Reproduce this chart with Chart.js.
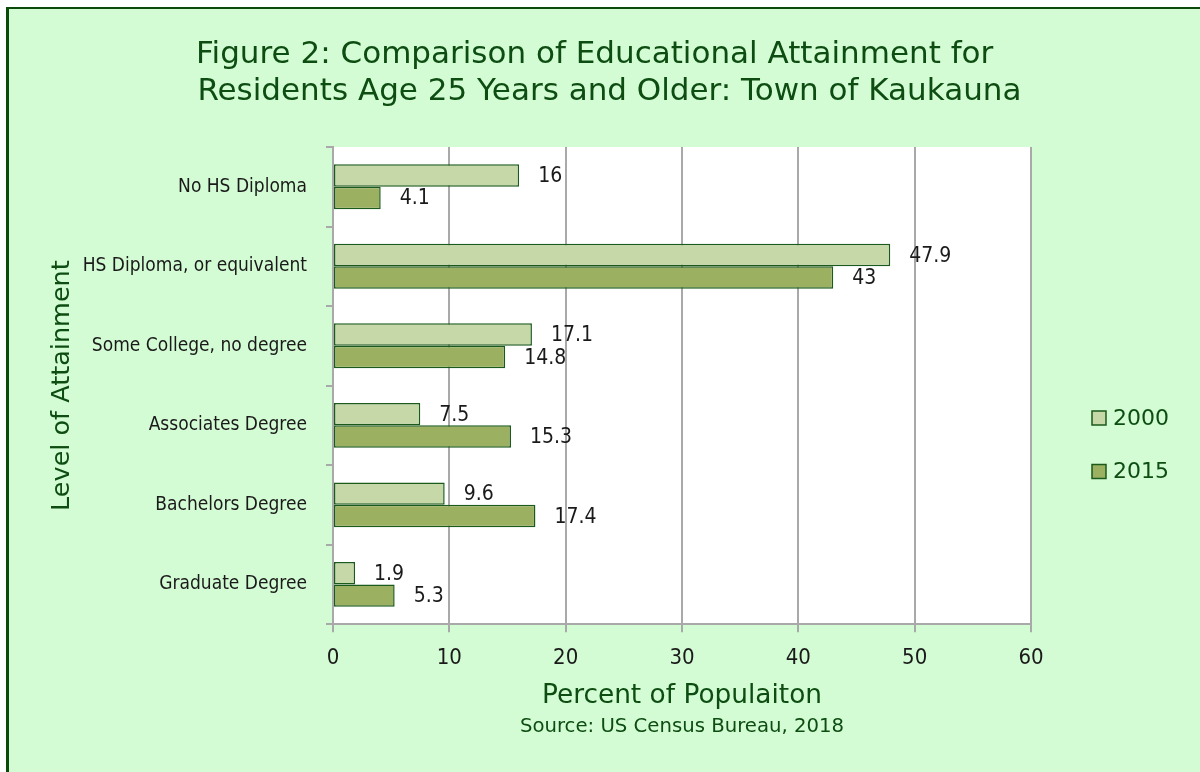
<!DOCTYPE html>
<html>
<head>
<meta charset="utf-8">
<script src="https://cdn.jsdelivr.net/npm/chart.js@4.4.1/dist/chart.umd.min.js"></script>
<style>
    html, body { margin: 0; padding: 0; background: #ffffff; }
    .frame {
        position: absolute; left: 6px; top: 7px; width: 1191px; height: 763px;
        border-left: 3px solid #0b4a0b; border-top: 2px solid #0b4a0b;
        background: #d4fcd4;
    }
    #chart { display: block; }
</style>
</head>
<body>
<div class="frame"><canvas id="chart" width="1191" height="763"></canvas></div>
<script>
'use strict';

const categorias = ['No HS Diploma', 'HS Diploma, or equivalent', 'Some College, no degree',
    'Associates Degree', 'Bachelors Degree', 'Graduate Degree'];
const valores2000 = [16, 47.9, 17.1, 7.5, 9.6, 1.9];
const valores2015 = [4.1, 43, 14.8, 15.3, 17.4, 5.3];
const seriesNomes = ['2000', '2015'];
const ticksX = [0, 10, 20, 30, 40, 50, 60];

const VERDE = '#0d4d12';
const CINZA = '#a9a9a9';
const BORDA_BARRA = '#1a5a1a';
const FONTE_TITULO = "'DejaVu Sans', Verdana, sans-serif";
const FONTE_ESTREITA = "'DejaVu Sans Condensed', 'Liberation Sans Narrow', 'Open Sans', sans-serif";

// fundo branco da área do gráfico
const fundoArea = {
    id: 'fundoArea',
    beforeDraw(chart) {
        const { ctx, chartArea: a } = chart;
        ctx.save();
        ctx.fillStyle = '#ffffff';
        ctx.fillRect(a.left, a.top, a.right - a.left, a.bottom - a.top);
        ctx.restore();
    }
};

// rótulos de valor à direita de cada barra
const rotulosValor = {
    id: 'rotulosValor',
    afterDatasetsDraw(chart) {
        const { ctx } = chart;
        ctx.save();
        ctx.font = `21px ${FONTE_ESTREITA}`;
        ctx.fillStyle = '#1a1a1a';
        ctx.textAlign = 'left';
        ctx.textBaseline = 'middle';
        chart.data.datasets.forEach((ds, i) => {
            chart.getDatasetMeta(i).data.forEach((bar, j) => {
                ctx.fillText(String(ds.data[j]), bar.x + 19, bar.y + 1);
            });
        });
        ctx.restore();
    }
};

// legenda à direita, desenhada a partir dos datasets
const legendaLateral = {
    id: 'legendaLateral',
    afterDraw(chart) {
        const { ctx, chartArea: a } = chart;
        ctx.save();
        ctx.font = `22px ${FONTE_TITULO}`;
        ctx.textBaseline = 'middle';
        chart.data.datasets.forEach((ds, i) => {
            const x = a.right + 61;
            const y = a.top + 271 + i * 53.5;
            ctx.fillStyle = ds.backgroundColor;
            ctx.strokeStyle = ds.borderColor;
            ctx.lineWidth = 1.5;
            ctx.fillRect(x, y - 7, 14, 14);
            ctx.strokeRect(x, y - 7, 14, 14);
            ctx.fillStyle = VERDE;
            ctx.fillText(ds.label, x + 21, y + 1);
        });
        ctx.restore();
    }
};

new Chart(document.getElementById('chart').getContext('2d'), {
    type: 'bar',
    data: {
        labels: categorias,
        datasets: [
            { label: seriesNomes[0], data: valores2000, backgroundColor: '#c6d7a8', borderColor: BORDA_BARRA, borderWidth: 1.5, borderSkipped: false },
            { label: seriesNomes[1], data: valores2015, backgroundColor: '#9cb061', borderColor: BORDA_BARRA, borderWidth: 1.5, borderSkipped: false }
        ]
    },
    options: {
        indexAxis: 'y',
        responsive: false,
        animation: false,
        layout: { padding: 0 },
        datasets: { bar: { categoryPercentage: 0.565, barPercentage: 1 } },
        scales: {
            x: {
                min: 0, max: 60,
                afterBuildTicks: (s) => { s.ticks = ticksX.map(v => ({ value: v })); },
                afterFit: (s) => { s.height = 90.6; },
                grid: { color: CINZA, lineWidth: 2, tickLength: 8 },
                border: { color: CINZA, width: 2 },
                ticks: { color: '#1a1a1a', padding: 13, font: { family: FONTE_ESTREITA, size: 22 } },
                title: {
                    display: true, text: 'Percent of Populaiton', color: VERDE,
                    font: { family: FONTE_TITULO, size: 26.4 }, padding: { top: 0, bottom: 3 }
                }
            },
            y: {
                afterFit: (s) => { s.width = 324; },
                grid: { color: CINZA, lineWidth: 2, tickLength: 7, drawOnChartArea: false },
                border: { color: CINZA, width: 2 },
                ticks: { color: '#1a1a1a', padding: 19, font: { family: FONTE_ESTREITA, size: 19 } },
                title: {
                    display: true, text: 'Level of Attainment', color: VERDE,
                    font: { family: FONTE_TITULO, size: 25.5 }, padding: { top: 38, bottom: 0 }
                }
            },
            // espaço reservado à legenda, à direita
            margemLegenda: {
                type: 'linear', position: 'right',
                afterFit: (s) => { s.width = 169; },
                grid: { display: false }, border: { display: false }, ticks: { display: false }
            }
        },
        plugins: {
            legend: { display: false },
            tooltip: { enabled: false },
            title: {
                display: true,
                // espaços para alinhar as duas linhas à esquerda, como no original
                text: ['Figure 2: Comparison of Educational Attainment for  ', ' Residents Age 25 Years and Older: Town of Kaukauna'],
                color: VERDE,
                font: { family: FONTE_TITULO, size: 31, weight: 'normal', lineHeight: 37 / 31 },
                padding: { top: 27.5, bottom: 36.5 }
            },
            subtitle: {
                display: true, position: 'bottom', fullSize: false,
                text: 'Source: US Census Bureau, 2018',
                color: VERDE,
                font: { family: FONTE_TITULO, size: 19.7 },
                padding: { top: 0, bottom: 33.6 }
            }
        }
    },
    plugins: [fundoArea, rotulosValor, legendaLateral]
});
</script>
</body>
</html>
